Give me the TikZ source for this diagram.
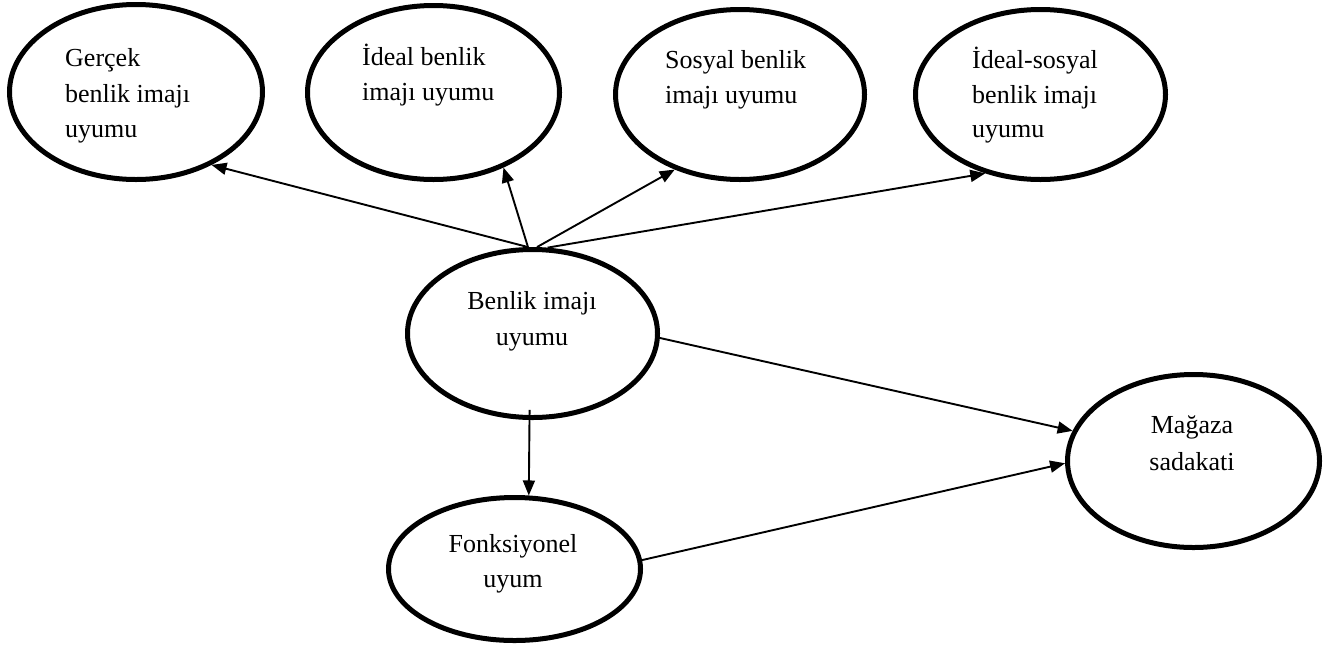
\documentclass[tikz,border=0pt]{standalone}
\usepackage{fontspec}
\setmainfont{Liberation Serif}
\usetikzlibrary{arrows.meta,shapes.geometric}
\tikzset{
  oval/.style={draw=black, line width=5pt, ellipse, inner sep=0pt},
  txt/.style={inner sep=0pt, font=\fontsize{26}{36}\selectfont},
  arr/.style={line width=1.9pt, -{Triangle[length=15pt,width=12pt]}}
}
\begin{document}
\begin{tikzpicture}[x=1pt,y=-1pt]
\useasboundingbox (0,0) rectangle (1337,651);
% ellipses
\node[oval, minimum width=253pt, minimum height=175pt] (G) at (136,92) {};
\node[oval, minimum width=252pt, minimum height=174pt] (I) at (433.5,92.5) {};
\node[oval, minimum width=249pt, minimum height=170pt] (S) at (740,94.5) {};
\node[oval, minimum width=250pt, minimum height=170pt] (IS) at (1040.5,94.5) {};
\node[oval, minimum width=250pt, minimum height=168pt] (B) at (532.5,333.5) {};
\node[oval, minimum width=252pt, minimum height=173pt] (M) at (1193.5,461) {};
\node[oval, minimum width=252pt, minimum height=143pt] (F) at (514.5,569) {};
% texts
\node[txt, anchor=base west] (g1) at (65,66) {Gerçek};
\node[txt, anchor=base west] (g2) at (65,102) {benlik imajı};
\node[txt, anchor=base west] (g3) at (65,137) {uyumu};
\node[txt, anchor=base west] (i1) at (362,65) {İdeal benlik};
\node[txt, anchor=base west] (i2) at (362,100) {imajı uyumu};
\node[txt, anchor=base west] (s1) at (665,68) {Sosyal benlik};
\node[txt, anchor=base west] (s2) at (665,103) {imajı uyumu};
\node[txt, anchor=base west] (is1) at (972,68) {İdeal-sosyal};
\node[txt, anchor=base west] (is2) at (972,103) {benlik imajı};
\node[txt, anchor=base west] (is3) at (972,137) {uyumu};
\node[txt, anchor=base] (b1) at (532,309) {Benlik imajı};
\node[txt, anchor=base] (b2) at (532,345) {uyumu};
\node[txt, anchor=base] (f1) at (513,552) {Fonksiyonel};
\node[txt, anchor=base] (f2) at (513,587) {uyum};
\node[txt, anchor=base] (m1) at (1192,433) {Mağaza};
\node[txt, anchor=base] (m2) at (1192,470) {sadakati};
% arrows
\draw[arr] (B.93) -- (G.-44.6);
\draw[arr] (B.93) -- (I.-47.4);
\draw[arr] (B.87) -- (S.-131.3);
\draw[arr] (B.80.5) -- (IS.-125.3);
\draw[arr] (B.-2) -- (M.166.4);
\draw[arr, shorten <=-10pt] (B.-92) -- (F.79.8);
\draw[arr] (F.4) -- (M.181);
\end{tikzpicture}
\end{document}
